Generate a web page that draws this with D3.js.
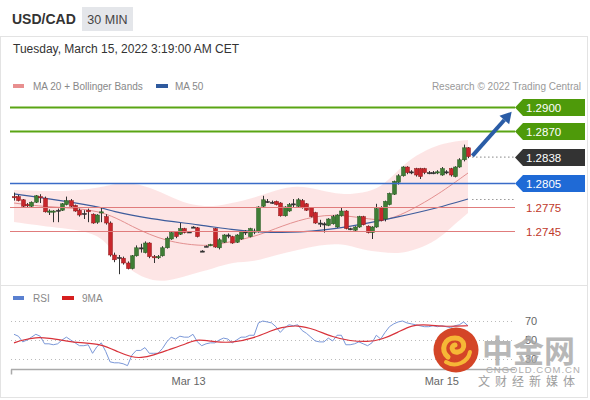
<!DOCTYPE html>
<html><head><meta charset="utf-8">
<script src="https://cdn.jsdelivr.net/npm/d3@7"></script>
<style>html,body{margin:0;padding:0;background:#fff;}svg{display:block;font-family:"Liberation Sans",Arial,sans-serif;}</style>
</head><body><svg id="c" width="590" height="400"></svg>
<script>
// ---------- DATA ----------
const openP = [1.2788,1.2788,1.2784,1.2778,1.2776,1.2781,1.2788,1.2786,1.2769,1.2769,1.2771,1.2771,1.2778,1.2783,1.2777,1.2771,1.2767,1.2771,1.2766,1.2756,1.2768,1.2763,1.2755,1.2715,1.2712,1.2711,1.2705,1.2698,1.2714,1.2724,1.2718,1.2730,1.2713,1.2712,1.2714,1.2724,1.2735,1.2744,1.2741,1.2748,1.2744,1.2750,1.2749,1.2720,1.2726,1.2727,1.2748,1.2724,1.2731,1.2740,1.2738,1.2731,1.2735,1.2744,1.2738,1.2744,1.2744,1.2776,1.2782,1.2781,1.2782,1.2780,1.2764,1.2770,1.2779,1.2776,1.2783,1.2779,1.2774,1.2768,1.2755,1.2754,1.2752,1.2754,1.2750,1.2764,1.2770,1.2748,1.2746,1.2750,1.2763,1.2751,1.2743,1.2750,1.2774,1.2760,1.2778,1.2791,1.2806,1.2814,1.2825,1.2819,1.2823,1.2823,1.2823,1.2818,1.2818,1.2818,1.2815,1.2819,1.2823,1.2813,1.2825,1.2834,1.2849];
const highP = [1.2793,1.2790,1.2785,1.2780,1.2782,1.2790,1.2791,1.2788,1.2772,1.2771,1.2773,1.2780,1.2788,1.2785,1.2778,1.2773,1.2771,1.2773,1.2767,1.2766,1.2775,1.2766,1.2757,1.2718,1.2715,1.2713,1.2707,1.2715,1.2727,1.2729,1.2732,1.2731,1.2715,1.2715,1.2726,1.2738,1.2745,1.2745,1.2755,1.2749,1.2745,1.2751,1.2750,1.2721,1.2727,1.2729,1.2749,1.2736,1.2741,1.2742,1.2739,1.2741,1.2745,1.2746,1.2749,1.2748,1.2776,1.2789,1.2785,1.2783,1.2783,1.2781,1.2776,1.2780,1.2785,1.2786,1.2785,1.2780,1.2775,1.2769,1.2759,1.2756,1.2761,1.2765,1.2766,1.2775,1.2771,1.2749,1.2751,1.2764,1.2764,1.2752,1.2751,1.2779,1.2776,1.2783,1.2793,1.2808,1.2816,1.2826,1.2826,1.2821,1.2824,1.2824,1.2824,1.2820,1.2820,1.2821,1.2825,1.2821,1.2824,1.2826,1.2836,1.2853,1.2850];
const lowP = [1.2783,1.2782,1.2775,1.2775,1.2775,1.2780,1.2780,1.2768,1.2765,1.2756,1.2756,1.2770,1.2777,1.2775,1.2769,1.2763,1.2760,1.2756,1.2754,1.2754,1.2756,1.2753,1.2713,1.2706,1.2691,1.2703,1.2697,1.2697,1.2713,1.2718,1.2717,1.2711,1.2705,1.2710,1.2713,1.2723,1.2734,1.2736,1.2740,1.2742,1.2743,1.2749,1.2737,1.2719,1.2725,1.2726,1.2724,1.2722,1.2730,1.2736,1.2729,1.2730,1.2734,1.2740,1.2737,1.2741,1.2743,1.2775,1.2780,1.2779,1.2777,1.2763,1.2763,1.2769,1.2774,1.2775,1.2773,1.2770,1.2762,1.2754,1.2750,1.2743,1.2751,1.2753,1.2749,1.2763,1.2747,1.2746,1.2745,1.2749,1.2752,1.2742,1.2735,1.2749,1.2757,1.2757,1.2777,1.2790,1.2803,1.2813,1.2816,1.2816,1.2813,1.2810,1.2816,1.2816,1.2816,1.2816,1.2814,1.2816,1.2813,1.2812,1.2824,1.2832,1.2836];
const closeP = [1.2787,1.2783,1.2776,1.2777,1.2781,1.2789,1.2787,1.2769,1.2770,1.2770,1.2771,1.2779,1.2783,1.2776,1.2770,1.2765,1.2767,1.2769,1.2755,1.2765,1.2769,1.2755,1.2715,1.2709,1.2712,1.2705,1.2698,1.2714,1.2724,1.2724,1.2730,1.2713,1.2712,1.2713,1.2724,1.2736,1.2743,1.2738,1.2748,1.2743,1.2744,1.2750,1.2738,1.2720,1.2726,1.2728,1.2725,1.2734,1.2740,1.2740,1.2730,1.2740,1.2744,1.2744,1.2748,1.2745,1.2775,1.2784,1.2782,1.2781,1.2778,1.2764,1.2775,1.2778,1.2779,1.2784,1.2774,1.2771,1.2763,1.2755,1.2755,1.2754,1.2760,1.2763,1.2765,1.2770,1.2748,1.2748,1.2750,1.2763,1.2753,1.2743,1.2750,1.2773,1.2758,1.2782,1.2792,1.2807,1.2814,1.2825,1.2818,1.2819,1.2815,1.2813,1.2818,1.2818,1.2818,1.2819,1.2823,1.2819,1.2815,1.2825,1.2834,1.2849,1.2838];

// Indicator samples (candle index -> value)
const ma20Idx = [0,7,20,27,35,43,46,54,58,65,73,82,86,91,97,104];
const ma20Val = [1.2780,1.2775,1.27725,1.2750,1.27313,1.27263,1.27275,1.27363,1.27438,1.27588,1.27675,1.27588,1.27588,1.27713,1.2790,1.28175];
const ma50Idx = [0,7,20,22,31,43,50,56,65,77,88,97,104];
const ma50Val = [1.27913,1.27863,1.2775,1.2770,1.2760,1.27525,1.27463,1.27438,1.27425,1.2750,1.27625,1.27738,1.2785];
const bandIdx = [0,10,20,24,30,35,40,46,50,55,60,65,70,75,80,84,88,92,97,100,104];
const bandUpper = [1.27963,1.27938,1.27988,1.28063,1.28025,1.2790,1.27775,1.2775,1.2780,1.27863,1.27963,1.28025,1.27963,1.2790,1.27925,1.27988,1.28213,1.2840,1.28525,1.28563,1.28588];
const bandLower = [1.27563,1.27488,1.27438,1.27063,1.26838,1.26813,1.2690,1.26988,1.27063,1.27063,1.2715,1.27213,1.27275,1.2730,1.27213,1.27188,1.27163,1.27213,1.27338,1.27488,1.27675];

const rsiVal = [56,54,48,50,53,56,54,46,46,45,46,50,53,50,47,44,44,45,36,43,47,38,27,26,26,25,23,34,39,39,42,36,36,36,41,48,53,51,54,53,53,56,48,44,46,47,47,50,52,51,47,50,53,53,55,55,68,70,69,68,64,58,63,66,65,66,60,57,53,49,48,48,52,49,55,55,45,45,46,48,46,44,47,55,51,58,64,67,69,70,68,67,66,65,64,64,65,64,65,64,63,65,66,69,65];
const rsiMaIdx = [0,2,5,8,12,15,20,24,27,29,32,35,40,42,46,50,55,59,61,65,69,73,77,81,84,88,91,95,99,104];
const rsiMaVal = [47,50,53,52,49,47,46,37,32,31,34,39,47,51,48,47,52,60,63,66,61,53,49,48,50,58,66,66,64,65];
const rsiTicks = [70,50,30];

const levelPrices = [1.2900,1.2870,1.2838,1.2805,1.2775,1.2745];
const levelKinds  = ["res","res","last","sup1","sup","sup"];
const ma50Last = 1.2785;
const arrowFrom = [105,1.2839];
const arrowTo = [114,1.2894];
const dateTickIdx = [40,98];
const dateTickLabels = ["Mar 13","Mar 15"];

// ---------- CHART ----------
const svg = d3.select("#c");
const x = d3.scaleLinear().domain([0,104]).range([14,468]);
const y = d3.scaleLinear().domain([1.2680,1.2900]).range([283,107]);
const yr = d3.scaleLinear().domain([30,70]).range([359,321]);

// frame
svg.append("rect").attr("x",0).attr("y",0).attr("width",590).attr("height",400).attr("fill","#fff");
svg.append("rect").attr("x",0.5).attr("y",36.5).attr("width",587).attr("height",361).attr("fill","none").attr("stroke","#e3e3e3");
svg.append("line").attr("x1",0).attr("x2",588).attr("y1",285.5).attr("y2",285.5).attr("stroke","#e3e3e3");

// header
svg.append("text").attr("x",12).attr("y",24).attr("font-size",14).attr("font-weight","bold").attr("fill","#333").text("USD/CAD");
svg.append("rect").attr("x",82).attr("y",7).attr("width",51).attr("height",24).attr("fill","#e4e6ea");
svg.append("text").attr("x",107.5).attr("y",24).attr("text-anchor","middle").attr("font-size",12.5).attr("fill","#444").text("30 MIN");
svg.append("text").attr("x",13).attr("y",53).attr("font-size",12).attr("fill","#333").text("Tuesday, March 15, 2022 3:19:00 AM CET");

// legend
svg.append("rect").attr("x",13).attr("y",84).attr("width",11).attr("height",4).attr("fill","#e88f8f");
svg.append("text").attr("x",33).attr("y",90).attr("font-size",10).attr("fill","#888").text("MA 20 + Bollinger Bands");
svg.append("rect").attr("x",156).attr("y",84).attr("width",12).attr("height",4).attr("fill","#2f5a9e");
svg.append("text").attr("x",175).attr("y",90).attr("font-size",10).attr("fill","#888").text("MA 50");
svg.append("text").attr("x",581).attr("y",90).attr("text-anchor","end").attr("font-size",10).attr("fill","#999").text("Research \u00a9 2022 Trading Central");

// clip
svg.append("clipPath").attr("id","pc").append("rect").attr("x",2).attr("y",96).attr("width",512).attr("height",188);
const pg = svg.append("g").attr("clip-path","url(#pc)");

// bollinger band
const bandData = bandIdx.map((d,i)=>({i:d,u:bandUpper[i],l:bandLower[i]}));
pg.append("path").datum(bandData)
  .attr("d", d3.area().curve(d3.curveBasis).x(d=>x(d.i)).y0(d=>y(d.l)).y1(d=>y(d.u)))
  .attr("fill","#fcdcdc").attr("opacity",0.75);

// levels
const lineColor = {res:"#5aa514",last:null,sup1:"#3a6cc8",sup:"#e07c7c"};
levelPrices.forEach((p,k)=>{
  const kind = levelKinds[k];
  if(kind==="last") return;
  svg.append("line").attr("x1",10).attr("x2",515).attr("y1",Math.round(y(p))+0.5).attr("y2",Math.round(y(p))+0.5)
    .attr("stroke",lineColor[kind]).attr("stroke-width",kind==="res"?2:(kind==="sup1"?1.3:1));
});

// MA lines
const ma20Data = ma20Idx.map((d,i)=>({i:d,v:ma20Val[i]}));
const ma50Data = ma50Idx.map((d,i)=>({i:d,v:ma50Val[i]}));
const ln = d3.line().curve(d3.curveBasis).x(d=>x(d.i)).y(d=>y(d.v));
pg.append("path").datum(ma20Data).attr("d",ln).attr("fill","none").attr("stroke","#e39090").attr("stroke-width",1);
pg.append("path").datum(ma50Data).attr("d",ln).attr("fill","none").attr("stroke","#3d5c9c").attr("stroke-width",1.2);

// candles
const candles = openP.map((o,i)=>({i,o,h:highP[i],l:lowP[i],c:closeP[i]}));
const cg = pg.append("g");
cg.selectAll("line.w").data(candles).join("line")
  .attr("x1",d=>Math.round(x(d.i))+0.5).attr("x2",d=>Math.round(x(d.i))+0.5)
  .attr("y1",d=>y(d.h)).attr("y2",d=>y(d.l)).attr("stroke","#333").attr("stroke-width",1);
cg.selectAll("rect").data(candles).join("rect")
  .attr("x",d=>Math.round(x(d.i))-1.5).attr("width",4)
  .attr("y",d=>y(Math.max(d.o,d.c)))
  .attr("height",d=>Math.max(1.2,Math.abs(y(d.o)-y(d.c))))
  .attr("fill",d=>d.c>d.o?"#3f7d35":(d.c<d.o?"#c8262b":"#333"))
  .attr("stroke",d=>d.c>d.o?"#2b5a25":(d.c<d.o?"#8e1c1f":"#333")).attr("stroke-width",0.5);

// dotted extensions
svg.append("line").attr("x1",x(105)).attr("x2",515).attr("y1",y(1.2838)+0.5).attr("y2",y(1.2838)+0.5)
  .attr("stroke","#444").attr("stroke-dasharray","1,3");
svg.append("line").attr("x1",x(105)).attr("x2",515).attr("y1",y(ma50Last)+0.5).attr("y2",y(ma50Last)+0.5)
  .attr("stroke","#666").attr("stroke-dasharray","1,3");

// arrow
const ax1=x(arrowFrom[0]), ay1=y(arrowFrom[1]), ax2=x(arrowTo[0]), ay2=y(arrowTo[1]);
const ang = Math.atan2(ay2-ay1, ax2-ax1);
const hl=11, hw=6.5;
const bx = ax2 - hl*Math.cos(ang), by = ay2 - hl*Math.sin(ang);
svg.append("line").attr("x1",ax1).attr("y1",ay1).attr("x2",bx).attr("y2",by).attr("stroke","#2a5ca6").attr("stroke-width",4);
svg.append("path").attr("d",`M${ax2},${ay2}L${bx+hw*Math.sin(ang)},${by-hw*Math.cos(ang)}L${bx-hw*Math.sin(ang)},${by+hw*Math.cos(ang)}Z`).attr("fill","#2a5ca6");

// level tags
const tagFill = {res:"#4e9a0a",last:"#333333",sup1:"#1f6ad6"};
levelPrices.forEach((p,k)=>{
  const kind = levelKinds[k];
  const yy = Math.round(y(p))+0.5;
  if(kind==="sup"){
    svg.append("text").attr("x",526).attr("y",yy+4).attr("font-size",11.5).attr("fill","#c0392b").text(p.toFixed(4));
    return;
  }
  svg.append("path").attr("d",`M515,${yy}L523,${yy-8.5}L585,${yy-8.5}L585,${yy+8.5}L523,${yy+8.5}Z`).attr("fill",tagFill[kind]);
  svg.append("text").attr("x",526).attr("y",yy+4).attr("font-size",11.5).attr("fill","#fff").text(p.toFixed(4));
});

// ---------- RSI panel ----------
svg.append("rect").attr("x",13).attr("y",296).attr("width",11).attr("height",4).attr("fill","#5a80d0");
svg.append("text").attr("x",33).attr("y",302).attr("font-size",10).attr("fill","#888").text("RSI");
svg.append("rect").attr("x",62).attr("y",296).attr("width",12).attr("height",4).attr("fill","#d61f1f");
svg.append("text").attr("x",82).attr("y",302).attr("font-size",10).attr("fill","#888").text("9MA");

rsiTicks.forEach(t=>{
  svg.append("line").attr("x1",11).attr("x2",515).attr("y1",Math.round(yr(t))+0.5).attr("y2",Math.round(yr(t))+0.5)
    .attr("stroke","#bbb").attr("stroke-dasharray","1,3");
  svg.append("text").attr("x",525).attr("y",yr(t)+4).attr("font-size",11).attr("fill","#666").text(t);
});
const rsiData = rsiVal.map((v,i)=>({i,v}));
svg.append("path").datum(rsiData).attr("d",d3.line().x(d=>x(d.i)).y(d=>yr(d.v)))
  .attr("fill","none").attr("stroke","#7b98d8").attr("stroke-width",1);
const rsiMaData = rsiMaIdx.map((d,i)=>({i:d,v:rsiMaVal[i]}));
svg.append("path").datum(rsiMaData).attr("d",d3.line().curve(d3.curveBasis).x(d=>x(d.i)).y(d=>yr(d.v)))
  .attr("fill","none").attr("stroke","#d8333b").attr("stroke-width",1.2);

// x axis
const xAxisG = svg.append("g").attr("transform","translate(0,369.5)");
xAxisG.append("line").attr("x1",11).attr("x2",515).attr("stroke","#aaa").attr("stroke-width",1.5);
xAxisG.append("line").attr("x1",11.5).attr("x2",11.5).attr("y1",0).attr("y2",5).attr("stroke","#aaa").attr("stroke-width",1.5);
dateTickIdx.forEach((t,k)=>{
  xAxisG.append("text").attr("x",x(t)).attr("y",15).attr("text-anchor","middle").attr("font-size",11).attr("fill","#666").text(dateTickLabels[k]);
});

// watermark
const wm = svg.append("g").attr("opacity",0.95);
wm.append("circle").attr("cx",456).attr("cy",350).attr("r",22.5).attr("fill","#d23c1c");
wm.append("path").attr("d","M448,357 C440,350 444,338 455,338 C465,338 467,350 458,352 C452,353 450,346 455,345").attr("fill","none").attr("stroke","#f6b42c").attr("stroke-width",5).attr("stroke-linecap","round");
wm.append("path").attr("d","M446,362 C456,368 468,362 470,352").attr("fill","none").attr("stroke","#f6b42c").attr("stroke-width",4).attr("stroke-linecap","round");
wm.append("text").attr("x",482).attr("y",362).attr("font-family","Noto Sans CJK SC").attr("font-size",31).attr("font-weight","bold").attr("fill","#a8a8a8").attr("opacity",0.85).text("中金网");
wm.append("text").attr("x",486).attr("y",373).attr("font-size",9.5).attr("letter-spacing",1).attr("fill","#aaa").text("CNGOLD.COM.CN");
wm.append("text").attr("x",478).attr("y",386).attr("font-family","Noto Sans CJK SC").attr("font-size",12).attr("letter-spacing",5).attr("fill","#999").text("文财经新媒体");
</script></body></html>
